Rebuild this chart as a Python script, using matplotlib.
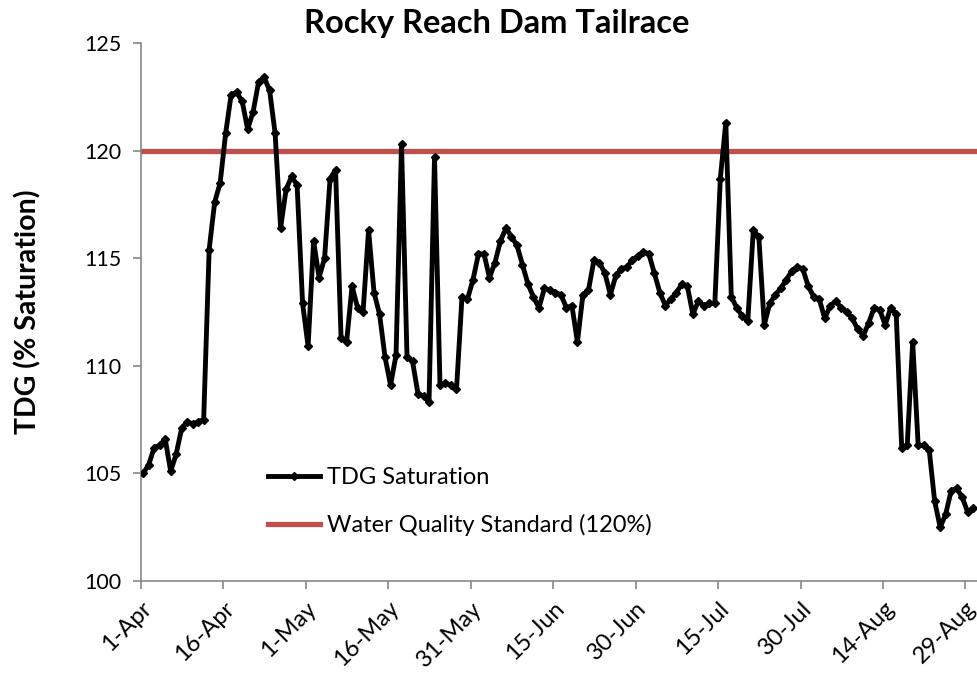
import numpy as np
import matplotlib
matplotlib.use("Agg")
import matplotlib.pyplot as plt
from matplotlib.lines import Line2D

plt.rcParams['font.family'] = ['Lato', 'DejaVu Sans']

# daily TDG saturation (%), 1-Apr onward
tdg = [
    105.0, 105.4, 106.2, 106.3, 106.6, 105.1, 105.9, 107.1, 107.4, 107.3,
    107.4, 107.5, 115.4, 117.6, 118.5, 120.8, 122.6, 122.7, 122.3, 121.0,
    121.8, 123.2, 123.4, 122.8, 120.8, 116.4, 118.2, 118.8, 118.4, 112.9,
    110.9, 115.8, 114.1, 115.0, 118.7, 119.1, 111.3, 111.1, 113.7, 112.7,
    112.5, 116.3, 113.4, 112.4, 110.4, 109.1, 110.5, 120.3, 110.4, 110.2,
    108.7, 108.6, 108.3, 119.7, 109.1, 109.2, 109.1, 108.9, 113.2, 113.1,
    114.0, 115.2, 115.2, 114.1, 114.8, 115.8, 116.4, 116.0, 115.6, 114.7,
    113.8, 113.2, 112.7, 113.6, 113.5, 113.4, 113.3, 112.7, 112.8, 111.1,
    113.3, 113.5, 114.9, 114.8, 114.3, 113.3, 114.2, 114.5, 114.6, 114.9,
    115.1, 115.3, 115.2, 114.3, 113.4, 112.8, 113.1, 113.4, 113.8, 113.7,
    112.4, 113.0, 112.8, 112.9, 112.9, 118.7, 121.3, 113.2, 112.7, 112.3,
    112.1, 116.3, 116.0, 111.9, 112.9, 113.3, 113.6, 114.0, 114.4, 114.6,
    114.5, 113.7, 113.2, 113.1, 112.2, 112.8, 113.0, 112.7, 112.5, 112.2,
    111.7, 111.4, 112.0, 112.7, 112.6, 111.9, 112.7, 112.4, 106.2, 106.3,
    111.1, 106.3, 106.3, 106.1, 103.7, 102.5, 103.1, 104.2, 104.3, 103.9,
    103.2, 103.4,
]
standard = 120
tick_days = [0, 15, 30, 45, 60, 75, 90, 105, 120, 135, 150]
tick_labels = ['1-Apr', '16-Apr', '1-May', '16-May', '31-May', '15-Jun',
               '30-Jun', '15-Jul', '30-Jul', '14-Aug', '29-Aug']

days = np.arange(len(tdg)) + 0.4

fig = plt.figure(figsize=(9.77, 6.78), dpi=100)
ax = fig.add_axes([141 / 977, 1 - 581 / 678, 836 / 977, 538 / 678])

ax.axhline(standard, color='#C0504D', lw=3.8, zorder=2)
ax.plot(days, tdg, color='black', lw=3.5, marker='D', ms=4.5, zorder=3)

ax.set_xlim(0, 152.1)
ax.set_ylim(100, 125)
ax.set_yticks(np.arange(100, 126, 5))
ax.set_xticks(tick_days)
ax.set_xticklabels(tick_labels, rotation=45, ha='right', rotation_mode='anchor')

for s in ['top', 'right']:
    ax.spines[s].set_visible(False)
for s in ['left', 'bottom']:
    ax.spines[s].set_color('#868686')
    ax.spines[s].set_linewidth(1.2)
ax.tick_params(axis='both', colors='#868686', labelcolor='black',
               labelsize=15.5, length=6, width=1.2, direction='out')
ax.tick_params(axis='y', pad=8)
ax.tick_params(axis='x', pad=6, labelsize=17)

fig.text(28 / 977, 1 - 312 / 678, 'TDG (% Saturation)', fontsize=20.5,
         fontweight='bold', rotation=90, ha='center', va='center')
fig.text(497 / 977, 1 - 24 / 678, 'Rocky Reach Dam Tailrace', fontsize=23.5,
         fontweight='bold', ha='center', va='center')

handles = [Line2D([], [], color='black', lw=3.5, marker='D', ms=4.5, markevery=[1]),
           Line2D([], [], color='#C0504D', lw=3.8)]
ax.legend(handles, ['TDG Saturation', 'Water Quality Standard (120%)'],
          loc='lower left', bbox_to_anchor=(0.127, 0.044), frameon=False,
          fontsize=17, handlelength=2.2, handletextpad=0.3, labelspacing=1.1)

fig.savefig('out.png', dpi=100)
